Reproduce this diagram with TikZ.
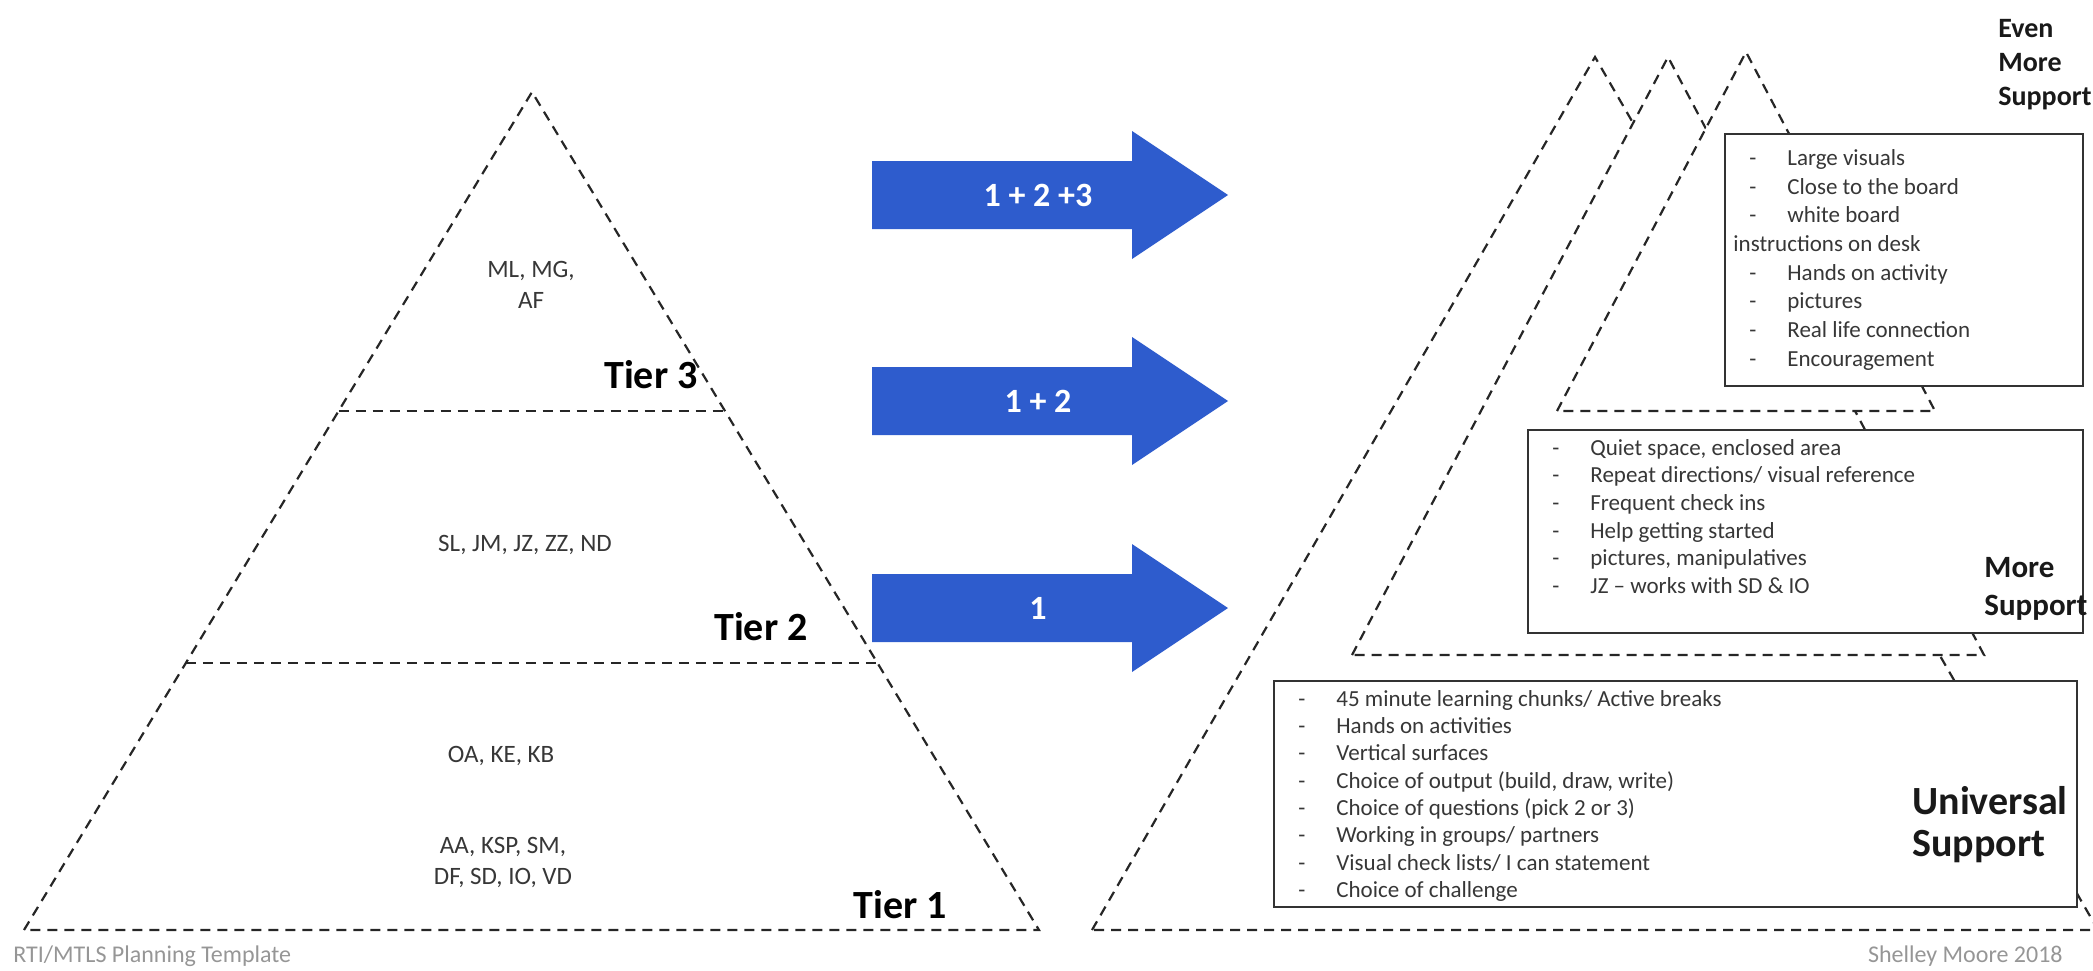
\documentclass[tikz,border=0pt]{standalone}
\usepackage{fontspec}
\setmainfont{Carlito}
\usetikzlibrary{calc}
\definecolor{arrowblue}{RGB}{46,92,205}
\definecolor{txt}{RGB}{55,55,55}
\definecolor{foot}{RGB}{150,150,150}
\newcommand\li[1]{\hspace*{8pt}\makebox[19pt][l]{-}#1}
\begin{document}
\begin{tikzpicture}[x=0.5pt,y=-0.5pt,
  dashline/.style={line width=1.1pt, draw=black!85, dash pattern=on 5pt off 3.5pt},
  boxline/.style={line width=1.1pt, draw=black!80, fill=white},
  names/.style={font=\fontsize{12.5}{15.5}\selectfont, text=txt, align=center, inner sep=0pt},
  tier/.style={font=\fontsize{20}{24}\selectfont\bfseries, text=black, inner sep=0pt},
  listtext/.style={text=txt, align=left, inner sep=0pt, anchor=north west},
  suplabel/.style={text=black!90, align=left, inner sep=0pt, anchor=north west},
  arrowtext/.style={font=\fontsize{17}{20}\selectfont\bfseries, text=white, inner sep=0pt},
  foottext/.style={font=\fontsize{12}{14}\selectfont, text=foot, inner sep=0pt},
  bluearrow/.pic={\fill[arrowblue] (0,-34) -- (260,-34) -- (260,-64) -- (356,0) -- (260,64) -- (260,34) -- (0,34) -- cycle;}
]
\useasboundingbox (0,0) rectangle (2093,970);

% ---------- left pyramid ----------
\coordinate (LA) at (532,92);
\coordinate (LBL) at (24,930);
\coordinate (LBR) at (1039,930);
\draw[dashline] (LBL) -- (LA) -- (LBR) -- cycle;
\coordinate (L3l) at ($(LA)!0.3807!(LBL)$);
\coordinate (L3r) at ($(LA)!0.3807!(LBR)$);
\coordinate (L2l) at ($(LA)!0.6814!(LBL)$);
\coordinate (L2r) at ($(LA)!0.6814!(LBR)$);
\draw[dashline] (L3l) -- (L3r);
\draw[dashline] (L2l) -- (L2r);

\node[names] (n3) at (531,285) {ML, MG,\\AF};
\node[tier] (t3) at (651,375) {Tier 3};
\node[names] (n2) at (525,545) {SL, JM, JZ, ZZ, ND};
\node[tier] (t2) at (761,627) {Tier 2};
\node[names] (n1a) at (501,756) {OA, KE, KB};
\node[names] (n1b) at (503,862) {AA, KSP, SM,\\DF, SD, IO, VD};
\node[tier] (t1) at (900,905) {Tier 1};

% ---------- arrows ----------
\pic (arr3) at (872,195) {bluearrow};
\node[arrowtext] (a3) at (1038,195) {1 + 2 +3};
\pic (arr2) at (872,401) {bluearrow};
\node[arrowtext] (a2) at (1038,401) {1 + 2};
\pic (arr1) at (872,608) {bluearrow};
\node[arrowtext] (a1) at (1038,608) {1};

% ---------- right pyramid ----------
\coordinate (R1a) at (1595,57);
\coordinate (R1l) at (1092,930);
\coordinate (R1r) at (2098,930);
\filldraw[dashline, fill=white] (R1l) -- (R1a) -- (R1r) -- cycle;
\coordinate (R2a) at (1668,57);
\coordinate (R2l) at (1352,655);
\coordinate (R2r) at (1984,655);
\filldraw[dashline, fill=white] (R2l) -- (R2a) -- (R2r) -- cycle;
\coordinate (R3a) at (1746,52);
\coordinate (R3l) at (1557,411);
\coordinate (R3r) at (1935,411);
\filldraw[dashline, fill=white] (R3l) -- (R3a) -- (R3r) -- cycle;

% boxes
\draw[boxline] (1725,134) coordinate (evenNW) rectangle (2083,386);
\draw[boxline] (1528,430) coordinate (moreNW) rectangle (2083,633);
\draw[boxline] (1274,681) coordinate (univNW) rectangle (2077,907);

\node[listtext, font=\fontsize{11.5}{14.35}\selectfont] (evenlist) at ($(evenNW)+(8,15)$)
 {\li{Large visuals}\\ \li{Close to the board}\\ \li{white board}\\ instructions on desk\\
  \li{Hands on activity}\\ \li{pictures}\\ \li{Real life connection}\\ \li{Encouragement}};
\node[listtext, font=\fontsize{11.5}{13.8}\selectfont] (morelist) at ($(moreNW)+(8,9)$)
 {\li{Quiet space, enclosed area}\\ \li{Repeat directions/ visual reference}\\ \li{Frequent check ins}\\
  \li{Help getting started}\\ \li{pictures, manipulatives}\\ \li{JZ -- works with SD \& IO}};
\node[listtext, font=\fontsize{11.5}{13.65}\selectfont] (univlist) at ($(univNW)+(8,9)$)
 {\li{45 minute learning chunks/ Active breaks}\\ \li{Hands on activities}\\ \li{Vertical surfaces}\\
  \li{Choice of output (build, draw, write)}\\ \li{Choice of questions (pick 2 or 3)}\\
  \li{Working in groups/ partners}\\ \li{Visual check lists/ I can statement}\\ \li{Choice of challenge}};

\node[suplabel, font=\fontsize{14}{17}\selectfont\bfseries] (lbleven) at (1998,19) {Even\\More\\Support};
\node[suplabel, font=\fontsize{15.5}{19}\selectfont\bfseries] (lblmore) at (1984,557) {More\\Support};
\node[suplabel, font=\fontsize{20}{21}\selectfont\bfseries] (lbluniv) at (1912,786) {Universal\\Support};

% footers
\node[foottext, anchor=west] (f1) at (13,956) {RTI/MTLS Planning Template};
\node[foottext, anchor=east] (f2) at (2063,956) {Shelley Moore 2018};
\end{tikzpicture}
\end{document}
